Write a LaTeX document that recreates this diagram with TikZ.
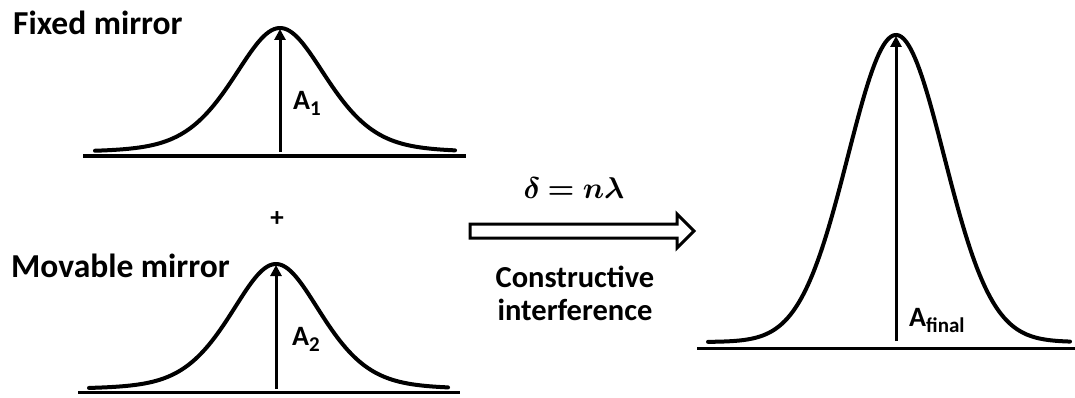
\documentclass[tikz,border=0pt]{standalone}
\usepackage{amsmath}
\usepackage{fontspec}
\setmainfont{Carlito}
\usetikzlibrary{arrows.meta, shapes.arrows, positioning, calc}

\newcommand{\ampsub}[1]{A\raisebox{-6pt}{\fontsize{21}{21}\selectfont #1}}
% bold math italic for the path condition
\font\condmi=cmmib10 at 30pt
\font\condbx=cmbx10 at 30pt
\newcommand{\condtext}{{\condmi\char"0E}\hspace{8.3pt}{\condbx=}\hspace{8.3pt}{\condmi n\char"15}}

\begin{document}
\begin{tikzpicture}[x=1pt, y=-1pt,
    curve/.style={line width=4pt, line cap=round, line join=round},
    base/.style={line width=3.5pt},
    amp/.style={-{Triangle[length=11pt, width=11pt]}, line width=3pt},
    lbl/.style={font=\fontsize{33.5}{36}\selectfont\bfseries, inner sep=0pt, anchor=base west},
    alab/.style={font=\fontsize{28}{30}\selectfont\bfseries, inner sep=0pt, anchor=base west},
    note/.style={font=\fontsize{30.5}{33}\selectfont\bfseries, inner sep=0pt, align=center},
    hollow/.style={single arrow, draw, line width=3pt, fill=white, minimum height=224pt,
      single arrow head extend=10pt, inner xsep=0pt, inner ysep=5.5pt, minimum width=0pt}
  ]
  \useasboundingbox (0,0) rectangle (1075,398);

  % baselines
  \draw[base] (83,156) -- (466,156);
  \draw[base] (78,392.5) -- (460,392.5);
  \draw[base] (697,348.5) -- (1075,348.5);

  % pulses
  \draw[curve] plot[domain=95:455, samples=140]
    (\x, {152-62*exp(-0.5*((\x-280)/48)^2)-62/cosh((\x-280)/40)});
  \draw[curve] plot[domain=89:448, samples=140]
    (\x, {389-62.5*exp(-0.5*((\x-276)/47)^2)-62.5/cosh((\x-276)/39)});
  \draw[curve] plot[domain=708:1070, samples=160] (\x, {342-307*exp(-0.5*((\x-896)/48)^2)});

  % amplitude arrows
  \coordinate (b1) at (280,152);  \coordinate (p1) at (280,29);
  \coordinate (b2) at (276,389);  \coordinate (p2) at (276,265);
  \coordinate (b3) at (896,341);  \coordinate (p3) at (896,36);
  \foreach \i in {1,2,3} {
    \draw[amp] (b\i) -- (p\i);
  }
  \node[alab] (a1) at (293,110) {\ampsub{1}};
  \node[alab] (a2) at (292,345) {\ampsub{2}};
  \node[alab] (a3) at (909,326) {\ampsub{final}};

  \node[lbl] (fixed) at (13,35) {Fixed mirror};
  \node[lbl] (movable) at (11,277) {Movable mirror};
  \node[font=\fontsize{27}{28}\selectfont\bfseries, inner sep=0pt] (plus) at (277,219) {+};

  % combining arrow
  \node[hollow] (conv) at (578.5,231) {};
  \node[inner sep=0pt] (cond) at (574,188) {\condtext};
  \node[note] (ci) at (575,293) {Constructive\\interference};
\end{tikzpicture}
\end{document}
